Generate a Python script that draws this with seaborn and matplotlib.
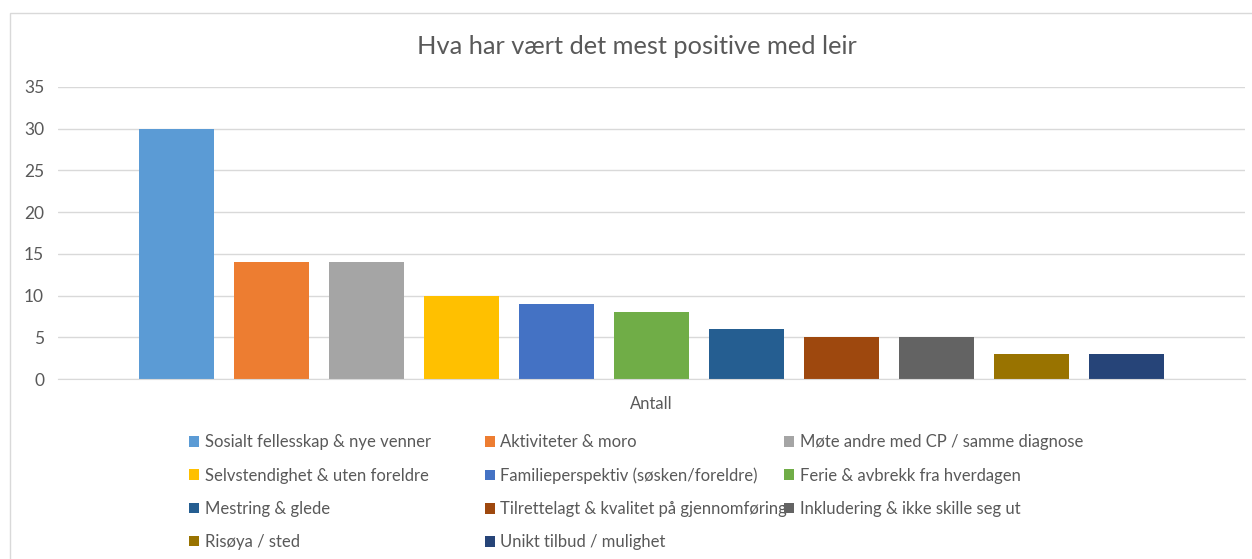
import pandas as pd
import matplotlib.pyplot as plt
import seaborn as sns
from matplotlib.patches import Patch, Rectangle

# Data
categories = [
    "Sosialt fellesskap & nye venner",
    "Aktiviteter & moro",
    "Møte andre med CP / samme diagnose",
    "Selvstendighet & uten foreldre",
    "Familieperspektiv (søsken/foreldre)",
    "Ferie & avbrekk fra hverdagen",
    "Mestring & glede",
    "Tilrettelagt & kvalitet på gjennomføring",
    "Inkludering & ikke skille seg ut",
    "Risøya / sted",
    "Unikt tilbud / mulighet",
]
counts = [30, 14, 14, 10, 9, 8, 6, 5, 5, 3, 3]
colors = ["#5B9BD5", "#ED7D31", "#A5A5A5", "#FFC000", "#4472C4", "#70AD47",
          "#255E91", "#9E480E", "#636363", "#997300", "#264478"]
group = "Antall"
yticks = [0, 5, 10, 15, 20, 25, 30, 35]

df = pd.DataFrame({"Gruppe": group, "Kategori": categories, "Antall": counts})

sns.set_style("white")
plt.rcParams["font.family"] = ["Lato", "DejaVu Sans"]
text_col = "#595959"
grid_col = "#D9D9D9"

fig = plt.figure(figsize=(12.52, 5.59), dpi=100)
ax = fig.add_axes([0.0463, 0.322, 0.9481, 0.5224])

sns.barplot(data=df, x="Gruppe", y="Antall", hue="Kategori", hue_order=categories,
            palette=colors, width=0.88, gap=0.21, saturation=1, legend=False,
            edgecolor="none", ax=ax)

ax.set_xlim(-0.5, 0.5)
ax.set_ylim(0, 35)
ax.set_yticks(yticks)
ax.yaxis.grid(True, color=grid_col, linewidth=1)
ax.set_axisbelow(True)
for s in ["top", "right", "left"]:
    ax.spines[s].set_visible(False)
ax.spines["bottom"].set_color(grid_col)
ax.tick_params(axis="y", length=0, labelsize=12.5, labelcolor=text_col, pad=10)
ax.tick_params(axis="x", length=0, labelsize=12, labelcolor=text_col, pad=12)
ax.set_xlabel("")
ax.set_ylabel("")

fig.suptitle("Hva har vært det mest positive med leir", x=0.509, y=0.937,
             fontsize=18.3, color=text_col)

# Legend: three columns, row-major order like Excel
col_x = [0.151, 0.387, 0.626]
for c in range(3):
    idx = list(range(c, len(categories), 3))
    handles = [Patch(facecolor=colors[i], edgecolor="none") for i in idx]
    labels = [categories[i] for i in idx]
    fig.legend(handles, labels, loc="upper left", bbox_to_anchor=(col_x[c], 0.223),
               frameon=False, fontsize=12, labelcolor=text_col,
               handlelength=0.6, handleheight=0.6, handletextpad=0.35,
               labelspacing=1.03, borderaxespad=0, borderpad=0)

# Outer chart frame
fig.patches.append(Rectangle((0.008, -0.1), 1.1, 1.077, transform=fig.transFigure,
                             fill=False, edgecolor=grid_col, linewidth=1))

fig.savefig("out.png", dpi=100)
